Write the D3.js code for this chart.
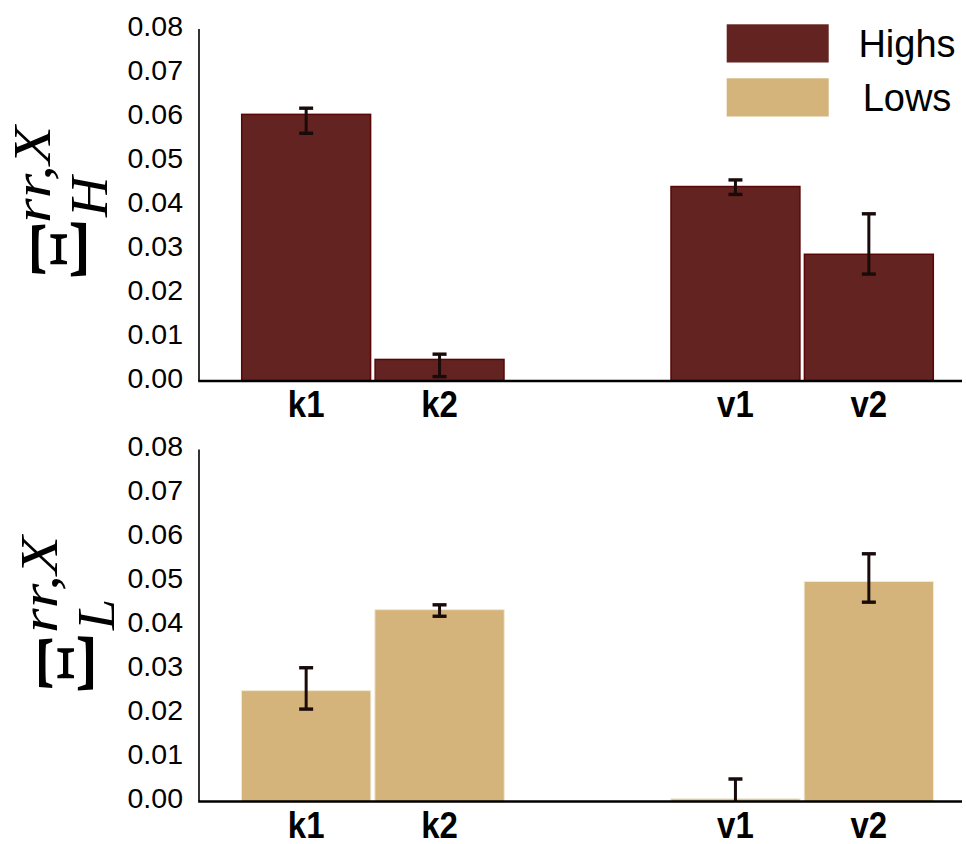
<!DOCTYPE html>
<html>
<head>
<meta charset="utf-8">
<script src="https://cdn.jsdelivr.net/npm/d3@7"></script>
<style>
  html, body { margin: 0; padding: 0; background: #fff; }
  svg { display: block; }
</style>
</head>
<body>
<svg id="chart" width="966" height="844"></svg>
<script>
// Mean values and error-bar extents per category
const groups = ["k", "v"];
const categories = ["k1", "k2", "v1", "v2"];
const yTicks = [0, 0.01, 0.02, 0.03, 0.04, 0.05, 0.06, 0.07, 0.08];

const highs      = [0.0606, 0.0049, 0.0442, 0.0288];
const highsErrLo = [0.0563, 0.0010, 0.0424, 0.0243];
const highsErrHi = [0.0620, 0.0061, 0.0457, 0.0380];

const lows       = [0.0252, 0.0436, 0.0006, 0.0500];
const lowsErrLo  = [0.0210, 0.0421, -0.0041, 0.0453];
const lowsErrHi  = [0.0304, 0.0447, 0.0051, 0.0563];

const seriesNames = ["Highs", "Lows"];

const svg = d3.select("#chart");

const COLORS = {
  Highs: { fill: "#632320", stroke: "#5a0606", sw: 1.5 },
  Lows:  { fill: "#d4b47a", stroke: "#f3e9d6", sw: 1 }
};

const axisLeft = 199, axisRight = 962;

// Group centres, then two bars per group
const groupX = d3.scalePoint().domain(groups).range([372.85, 802.15]);
const inner = d3.scaleBand().domain(["1", "2"]).range([-131.9, 131.9]).paddingInner(0.0225);

function barX(cat) { return groupX(cat[0]) + inner(cat.slice(1)); }

function drawPanel(opts) {
  const { id, yBottom, yTop, values, lo, hi, series, label } = opts;
  const y = d3.scaleLinear().domain([0, 0.08]).range([yBottom, yTop]);
  const g = svg.append("g");
  const clipId = "clip-" + id;

  svg.append("defs").append("clipPath").attr("id", clipId)
    .append("rect")
    .attr("x", axisLeft).attr("y", yTop - 20)
    .attr("width", axisRight - axisLeft).attr("height", yBottom - yTop + 20);

  const data = categories.map((c, i) => ({ c, v: values[i], lo: lo[i], hi: hi[i] }));
  const sw = COLORS[series].sw;

  // bars
  g.append("g").selectAll("rect").data(data).join("rect")
    .attr("x", d => barX(d.c) + sw / 2)
    .attr("width", inner.bandwidth() - sw)
    .attr("y", d => y(d.v))
    .attr("height", d => y(0) - y(d.v))
    .attr("fill", COLORS[series].fill)
    .attr("stroke", COLORS[series].stroke)
    .attr("stroke-width", sw);

  // error bars
  const eg = g.append("g").attr("clip-path", `url(#${clipId})`)
    .attr("stroke", "#1a0b0b").attr("stroke-width", 3).attr("fill", "none");
  const cx = d => barX(d.c) + inner.bandwidth() / 2;
  eg.selectAll("line.stem").data(data).join("line").attr("class", "stem")
    .attr("x1", cx).attr("x2", cx)
    .attr("y1", d => y(d.lo)).attr("y2", d => y(d.hi));
  eg.selectAll("line.capHi").data(data).join("line").attr("class", "capHi")
    .attr("x1", d => cx(d) - 7).attr("x2", d => cx(d) + 7)
    .attr("y1", d => y(d.hi)).attr("y2", d => y(d.hi))
    .attr("stroke-width", 3.4);
  eg.selectAll("line.capLo").data(data.filter(d => d.lo >= 0)).join("line").attr("class", "capLo")
    .attr("x1", d => cx(d) - 7).attr("x2", d => cx(d) + 7)
    .attr("y1", d => y(d.lo)).attr("y2", d => y(d.lo))
    .attr("stroke-width", 3.4);

  // y axis: spine and labels only
  const yAxis = d3.axisLeft(y).tickValues(yTicks).tickFormat(d3.format(".2f"))
    .tickSize(0).tickPadding(16);
  const ya = g.append("g").attr("transform", `translate(${axisLeft},0)`).call(yAxis);
  ya.select(".domain").remove();
  ya.selectAll("text")
    .attr("font-family", "'Liberation Sans', Arial, sans-serif")
    .attr("font-size", 28.5)
    .attr("fill", "#000")
    .attr("dy", "0.22em");
  g.append("line")
    .attr("x1", axisLeft).attr("x2", axisLeft)
    .attr("y1", y(0.08)).attr("y2", y(0))
    .attr("stroke", "#000").attr("stroke-width", 1.6);

  // x axis spine and category labels
  g.append("line")
    .attr("x1", axisLeft - 0.8).attr("x2", axisRight)
    .attr("y1", y(0)).attr("y2", y(0))
    .attr("stroke", "#000").attr("stroke-width", 2.4);
  g.append("g").selectAll("text").data(categories).join("text")
    .attr("transform", c => `translate(${barX(c) + inner.bandwidth() / 2},${y(0) + 36}) scale(1,1.1)`)
    .attr("text-anchor", "middle")
    .attr("font-family", "'Liberation Sans', Arial, sans-serif")
    .attr("font-weight", "bold")
    .attr("font-size", 33)
    .attr("fill", "#000")
    .text(c => c);

  // rotated math-style y label: Ξ with superscript rr,X and a subscript
  const lg = g.append("g")
    .attr("transform", `translate(${label.x},${label.y}) rotate(-90)`)
    .attr("font-family", "'Liberation Serif', 'Times New Roman', serif")
    .attr("fill", "#000");
  lg.append("text")
    .attr("transform", "scale(1.24,1)")
    .attr("font-size", 82).text("Ξ");
  lg.append("text")
    .attr("transform", `translate(${label.supX},-36) scale(1.22,1)`)
    .attr("font-size", 52).attr("font-style", "italic").text("rr,X");
  lg.append("text")
    .attr("transform", `translate(${label.subX},21) scale(1.08,1)`)
    .attr("font-size", 52).attr("font-style", "italic").text(label.sub);
}

drawPanel({
  id: "top", yBottom: 381, yTop: 29,
  values: highs, lo: highsErrLo, hi: highsErrHi, series: "Highs",
  label: { x: 86, y: 282, supX: 59, subX: 65, sub: "H" }
});

drawPanel({
  id: "bottom", yBottom: 801.5, yTop: 449.5,
  values: lows, lo: lowsErrLo, hi: lowsErrHi, series: "Lows",
  label: { x: 93, y: 696, supX: 63, subX: 66, sub: "L" }
});

// legend
const legend = svg.append("g");
const legendRow = d3.scalePoint().domain(seriesNames).range([24.3, 78.3]);
legend.selectAll("rect").data(seriesNames).join("rect")
  .attr("x", 726.7).attr("y", d => legendRow(d))
  .attr("width", 102).attr("height", 38.2)
  .attr("fill", d => COLORS[d].fill);
legend.selectAll("text").data(seriesNames).join("text")
  .attr("x", 907).attr("y", d => legendRow(d) + 32.3)
  .attr("text-anchor", "middle")
  .attr("font-family", "'Liberation Sans', Arial, sans-serif")
  .attr("font-size", 38)
  .attr("fill", "#000")
  .text(d => d);
</script>
</body>
</html>
